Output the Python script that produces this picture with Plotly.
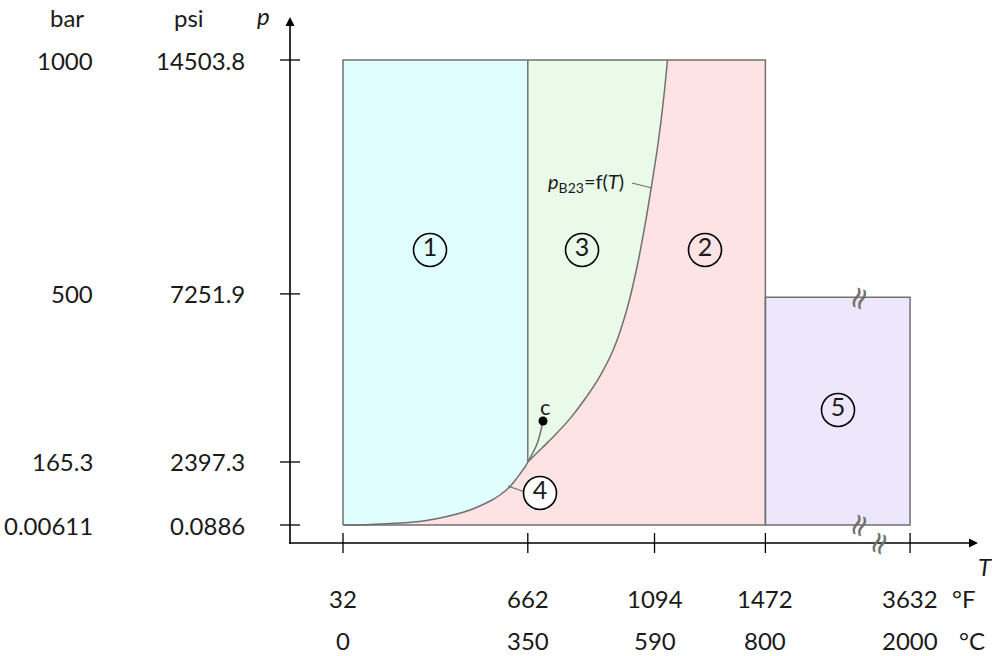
import plotly.graph_objects as go

# Temperature axis (broken beyond 800 °C): tick values and their schematic positions
T_C = [0, 350, 590, 800, 2000]
T_F = [32, 662, 1094, 1472, 3632]
T_axis = [0, 350, 590, 800, 1074]

# Pressure axis (not to scale): tick labels and schematic positions
p_bar_labels = ["0.00611", "165.3", "500", "1000"]
p_psi_labels = ["0.0886", "2397.3", "7251.9", "14503.8"]
p_axis = [0, 135.5, 497, 1000]

# Saturation curve (region 4) from triple point to critical point (schematic)
sat_T = [0, 51.1, 108, 151.5, 183.7, 215.9, 240.5, 263.3, 282.2, 297.3, 312.5,
         325.8, 337.1, 344.7, 350]
sat_p = [0, 1.1, 4.3, 8.6, 15.1, 23.7, 32.3, 43, 53.8, 64.5, 78.5,
         95.7, 112.9, 124.7, 135.5]

# B23 boundary curve p_B23 = f(T) (schematic)
b23_T = [350, 376.9, 403.4, 429.9, 458.3, 486.7, 513.3, 537.9, 556.8, 572.0,
         585.2, 596.6, 606.1, 614.6]
b23_p = [135.5, 165.6, 195.7, 228.8, 271.0, 320.4, 380.6, 464.5, 554.8, 645.2,
         735.5, 819.4, 905.4, 1000]

# Critical point marker and its connector
crit_T = [350, 368, 378.8]
crit_p = [135.5, 176, 223.7]

# Region bounds
T_min, T_13, T_25, T_5 = 0, 350, 800, 1074
p_min, p_top, p_5top = 0, 1000, 490

# Region label positions
reg_labels = ["1", "3", "2", "5", "4"]
reg_T = [164.8, 452.7, 685.6, 937.5, 373.1]
reg_p = [591.4, 591.4, 591.4, 247.3, 68.8]
reg_fill = ["rgba(0,0,0,0)"] * 4 + ["white"]

# ---------------- helpers for layout positions ----------------
def X(px):
    return (px - 343) / 0.528

def Y(py):
    return (525 - py) / 0.465

FONT = "Lato, 'Open Sans', sans-serif"
TXT = "#1a1a1a"
EDGE = "#707070"

fig = go.Figure()

# ----- region fills -----
reg1_T = [T_min, T_min, T_13, T_13] + sat_T[::-1]
reg1_p = [p_min, p_top, p_top, sat_p[-1]] + sat_p[::-1]
reg3_T = [T_13, b23_T[-1]] + b23_T[::-1]
reg3_p = [p_top, p_top] + b23_p[::-1]
reg2_T = sat_T + b23_T + [T_25, T_25, T_min]
reg2_p = sat_p + b23_p + [p_top, p_min, p_min]
reg5_T = [T_25, T_25, T_5, T_5, T_25]
reg5_p = [p_min, p_5top, p_5top, p_min, p_min]

for xs, ys, col in [
    (reg1_T, reg1_p, "rgb(224,254,254)"),
    (reg3_T, reg3_p, "rgb(233,250,233)"),
    (reg2_T, reg2_p, "rgb(253,227,227)"),
    (reg5_T, reg5_p, "rgb(237,231,252)"),
]:
    fig.add_trace(go.Scatter(x=xs, y=ys, fill="toself", fillcolor=col,
                             mode="lines", line=dict(width=0), hoverinfo="skip"))

# ----- region outlines -----
box_T = [T_min, T_min, T_25, T_25, T_min]
box_p = [p_min, p_top, p_top, p_min, p_min]
fig.add_trace(go.Scatter(x=box_T, y=box_p, mode="lines",
                         line=dict(color=EDGE, width=1.5), hoverinfo="skip"))
fig.add_trace(go.Scatter(x=reg5_T, y=reg5_p, mode="lines",
                         line=dict(color=EDGE, width=1.5), hoverinfo="skip"))
fig.add_trace(go.Scatter(x=[T_13, T_13], y=[sat_p[-1], p_top], mode="lines",
                         line=dict(color=EDGE, width=1.5), hoverinfo="skip"))
for xs, ys in [(sat_T, sat_p), (b23_T, b23_p), (crit_T, crit_p)]:
    fig.add_trace(go.Scatter(x=xs, y=ys, mode="lines",
                             line=dict(color=EDGE, width=1.5, shape="spline"),
                             hoverinfo="skip"))

# critical point dot
fig.add_trace(go.Scatter(x=[crit_T[-1]], y=[crit_p[-1]], mode="markers",
                         marker=dict(color="black", size=9), hoverinfo="skip"))

# ----- axis ticks -----
tx, ty = [], []
for t in T_axis:
    tx += [t, t, None]
    ty += [Y(533), Y(553), None]
for p in p_axis:
    tx += [X(280), X(300), None]
    ty += [p, p, None]
fig.add_trace(go.Scatter(x=tx, y=ty, mode="lines",
                         line=dict(color="black", width=1.3), hoverinfo="skip"))

# ----- axes (lines), arrowheads and leader lines -----
fig.add_trace(go.Scatter(x=[X(290), X(290), None, X(289), X(972)],
                         y=[Y(24), Y(544), None, Y(543), Y(543)], mode="lines",
                         line=dict(color="black", width=1.6), hoverinfo="skip"))
fig.add_trace(go.Scatter(x=[X(290), X(978)], y=[Y(17), Y(543)], mode="markers",
                         marker=dict(symbol=["arrow-up", "arrow-right"], size=9,
                                     color="black", line=dict(width=0)),
                         hoverinfo="skip"))
fig.add_trace(go.Scatter(x=[X(632), X(652), None, X(525), X(508)],
                         y=[Y(183), Y(188), None, Y(492), Y(486)], mode="lines",
                         line=dict(color=EDGE, width=1.2), hoverinfo="skip"))

# ----- region labels (circled numbers) -----
fig.add_trace(go.Scatter(x=reg_T, y=reg_p, mode="markers+text", text=reg_labels,
                         textposition="middle center",
                         textfont=dict(family=FONT, size=25, color=TXT),
                         marker=dict(size=33, color=reg_fill,
                                     line=dict(color="black", width=1.6)),
                         hoverinfo="skip"))

ann = []

def label(x, y, text, size=24, xanchor="center", color=TXT):
    ann.append(dict(x=x, y=y, xref="x", yref="y", text=text, showarrow=False,
                    xanchor=xanchor, yanchor="middle",
                    font=dict(family=FONT, size=size, color=color)))

# headers
label(X(67), Y(17), "bar")
label(X(189), Y(17), "psi")
label(X(263), Y(15), "<i>p</i>")
label(X(985), Y(566), "<i>T</i>")

# pressure tick labels
for p, b, s in zip(p_axis, p_bar_labels, p_psi_labels):
    label(X(95), p, b, xanchor="right")
    label(X(247), p, s, xanchor="right")

# temperature tick labels
for t, f, c in zip(T_axis, T_F, T_C):
    label(t, Y(598), str(f))
    label(t, Y(640), str(c))
label(X(964), Y(598), "°F")
label(X(972), Y(640), "°C")

# curve / point labels
label(X(586), Y(182), "<i>p</i><sub>B23</sub>=f(<i>T</i>)", size=20)
label(X(545), Y(406), "c", size=22)

# axis break marks
for bx, by in [(858, 298), (858, 525), (878, 543)]:
    ann.append(dict(x=X(bx), y=Y(by), xref="x", yref="y", text="≈", showarrow=False,
                    textangle=-70, font=dict(family="DejaVu Sans", size=31, color=EDGE),
                    xanchor="center", yanchor="middle"))

fig.update_layout(
    width=992, height=656, autosize=False,
    margin=dict(l=0, r=0, t=0, b=0, pad=0),
    paper_bgcolor="white", plot_bgcolor="white",
    showlegend=False, hovermode=False,
    xaxis=dict(range=[X(0), X(992)], visible=False, fixedrange=True),
    yaxis=dict(range=[Y(656), Y(0)], visible=False, fixedrange=True),
    annotations=ann,
)

fig.write_html("out.html", config={"displayModeBar": False, "staticPlot": True},
               post_script="document.body.style.margin='0';")
